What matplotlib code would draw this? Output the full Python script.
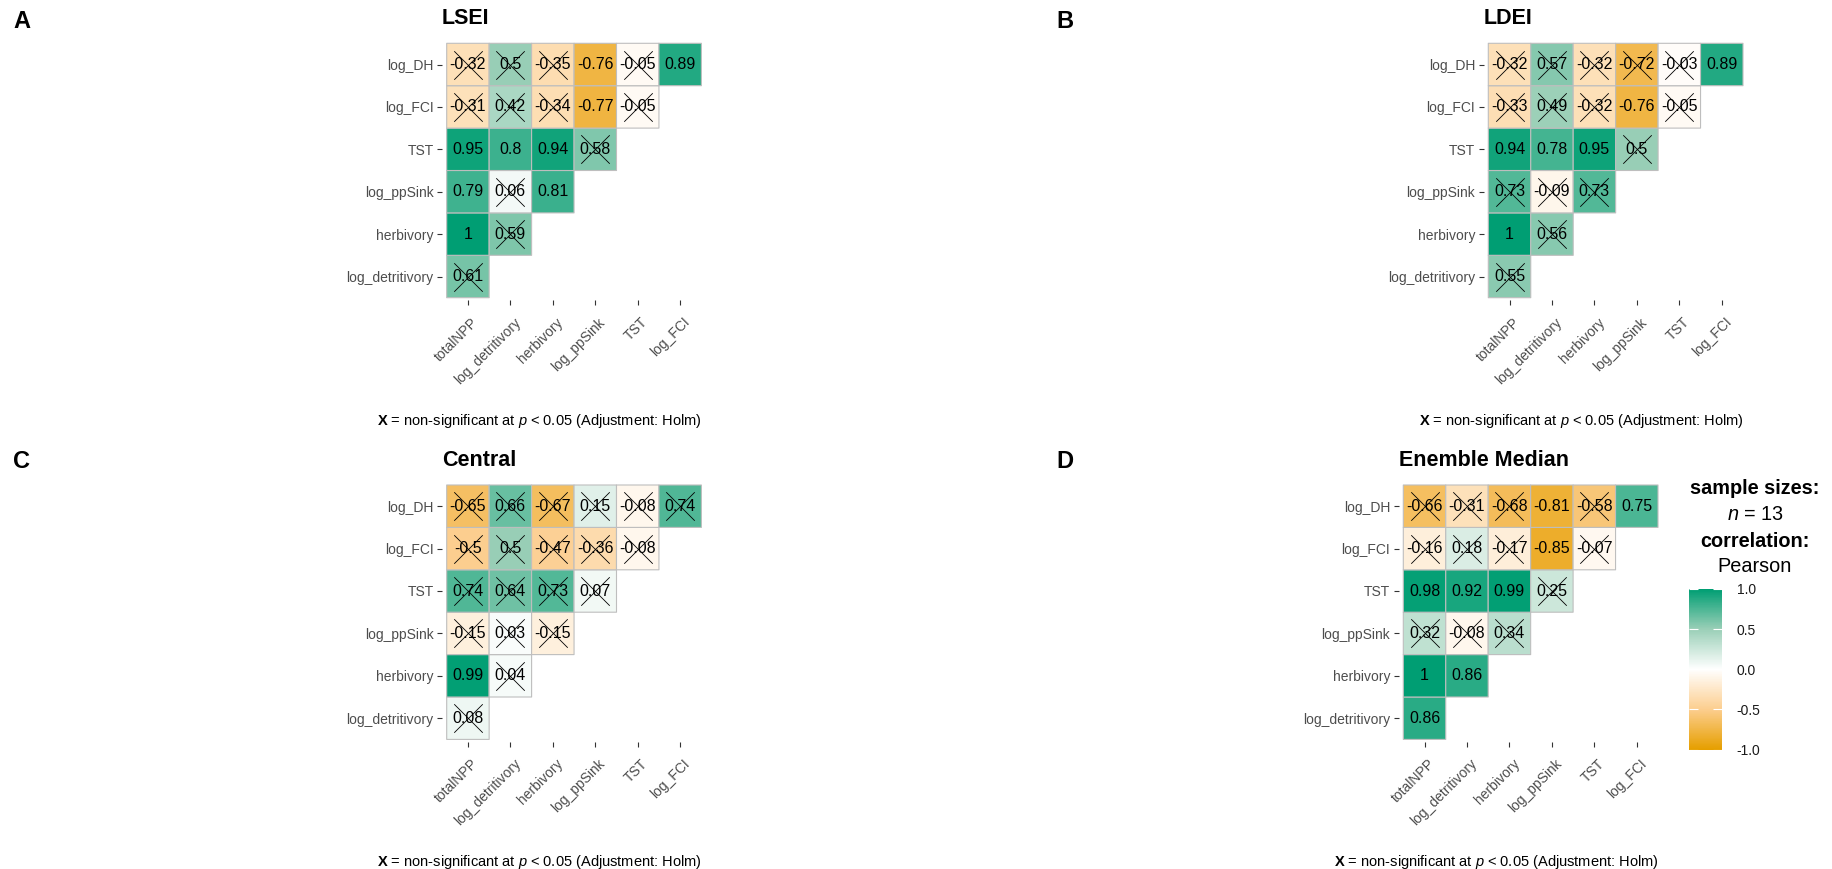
import matplotlib
matplotlib.use("Agg")
import matplotlib.pyplot as plt
import numpy as np
from matplotlib.colors import LinearSegmentedColormap, Normalize
from matplotlib.cm import ScalarMappable
from matplotlib.transforms import ScaledTranslation

plt.rcParams['font.family'] = ['Liberation Sans', 'DejaVu Sans']
plt.rcParams['mathtext.fontset'] = 'custom'
plt.rcParams['mathtext.rm'] = 'Liberation Sans'
plt.rcParams['mathtext.it'] = 'Liberation Sans:italic'
plt.rcParams['mathtext.bf'] = 'Liberation Sans:bold'

rows = ["log_DH", "log_FCI", "TST", "log_ppSink", "herbivory", "log_detritivory"]
cols = ["totalNPP", "log_detritivory", "herbivory", "log_ppSink", "TST", "log_FCI"]

# lower triangle, one list per row (top to bottom); ns = 1 means crossed out
lsei_r = [[-0.32, 0.5, -0.35, -0.76, -0.05, 0.89],
          [-0.31, 0.42, -0.34, -0.77, -0.05],
          [0.95, 0.8, 0.94, 0.58],
          [0.79, 0.06, 0.81],
          [1, 0.59],
          [0.61]]
lsei_ns = [[1, 1, 1, 0, 1, 0], [1, 1, 1, 0, 1], [0, 0, 0, 1], [0, 1, 0], [0, 1], [1]]

ldei_r = [[-0.32, 0.57, -0.32, -0.72, -0.03, 0.89],
          [-0.33, 0.49, -0.32, -0.76, -0.05],
          [0.94, 0.78, 0.95, 0.5],
          [0.73, -0.09, 0.73],
          [1, 0.56],
          [0.55]]
ldei_ns = [[1, 1, 1, 1, 1, 0], [1, 1, 1, 0, 1], [0, 0, 0, 1], [1, 1, 1], [0, 1], [1]]

central_r = [[-0.65, 0.66, -0.67, 0.15, -0.08, 0.74],
             [-0.5, 0.5, -0.47, -0.36, -0.08],
             [0.74, 0.64, 0.73, 0.07],
             [-0.15, 0.03, -0.15],
             [0.99, 0.04],
             [0.08]]
central_ns = [[1, 1, 1, 1, 1, 1], [1, 1, 1, 1, 1], [1, 1, 1, 1], [1, 1, 1], [0, 1], [1]]

median_r = [[-0.66, -0.31, -0.68, -0.81, -0.58, 0.75],
            [-0.16, 0.18, -0.17, -0.85, -0.07],
            [0.98, 0.92, 0.99, 0.25],
            [0.32, -0.08, 0.34],
            [1, 0.86],
            [0.86]]
median_ns = [[1, 1, 1, 0, 1, 0], [1, 1, 1, 0, 1], [0, 0, 0, 1], [1, 1, 1], [0, 0], [0]]

W, H = 1832, 869
CW, CH = 42.45, 42.4      # cell size in pixels
PX, PY = 0.11, 0.065      # panel padding around the tiles, in cells

cmap = LinearSegmentedColormap.from_list(
    "corr", ["#E69F00", "#FCCE8F", "#FFFFFF", "#9ACFB7", "#009E73"])
norm = Normalize(-1, 1)

fig = plt.figure(figsize=(W / 100, H / 100), dpi=100)
fig.patch.set_facecolor("white")


def px_axes(x0, y0, x1, y1):
    return fig.add_axes([x0 / W, 1 - y1 / H, (x1 - x0) / W, (y1 - y0) / H])


def panel(letter, title, r, ns, tx, ty, lx, ly):
    n = len(rows)
    left = tx - PX * CW
    right = tx + (n + PX) * CW
    top = ty - PY * CH
    bottom = ty + (n + PY) * CH
    ax = px_axes(left, top, right, bottom)

    grid = np.full((n, n), np.nan)
    for i, vals in enumerate(r):
        for j, v in enumerate(vals):
            grid[n - 1 - i, j] = v
    data = np.ma.masked_invalid(grid)
    edges = np.arange(n + 1) - 0.5
    ax.pcolor(edges, edges, data, cmap=cmap, norm=norm,
              edgecolors="#BEBEBE", linewidth=0.8)

    xs, ys = [], []
    for i, vals in enumerate(r):
        for j, v in enumerate(vals):
            ax.text(j, n - 1 - i, f"{v:g}", ha="center", va="center",
                    fontsize=11.5, color="black")
            if ns[i][j]:
                xs.append(j)
                ys.append(n - 1 - i)
    ax.scatter(xs, ys, marker="x", s=20.5 ** 2, c="black", linewidths=0.6, zorder=3)

    ax.set_xlim(-0.5 - PX, n - 0.5 + PX)
    ax.set_ylim(-0.5 - PY, n - 0.5 + PY)
    for s in ax.spines.values():
        s.set_visible(False)
    ax.set_xticks(range(n))
    ax.set_xticklabels(cols)
    ax.set_yticks(range(n))
    ax.set_yticklabels(rows[::-1])
    ax.tick_params(length=3.5, width=0.8, color="#333333", labelcolor="#4D4D4D",
                   labelsize=10, pad=2.5)
    ax.tick_params(axis="x", pad=7)
    shift = ScaledTranslation(3 / 100, 0, fig.dpi_scale_trans)
    for lbl in ax.get_xticklabels():
        lbl.set_rotation(45)
        lbl.set_ha("right")
        lbl.set_va("top")
        lbl.set_rotation_mode("anchor")
        lbl.set_transform(lbl.get_transform() + shift)

    fig.text(left / W, 1 - (ty - 25) / H, title, fontsize=15.5, fontweight="bold",
             ha="left", va="center")
    fig.text((left - 65) / W, 1 - (ty + n * CH + 123) / H,
             r"$\mathbf{X}$ = non-significant at $p$ < 0.05 (Adjustment: Holm)",
             fontsize=10.5, ha="left", va="center")
    fig.text(lx / W, 1 - ly / H, letter, fontsize=17, fontweight="bold",
             ha="left", va="center")
    return ax


panel("A", "LSEI", lsei_r, lsei_ns, 446.7, 43.3, 13, 21)
panel("B", "LDEI", ldei_r, ldei_ns, 1488.3, 43.3, 1056, 21)
panel("C", "Central", central_r, central_ns, 446.7, 485, 13, 462)
panel("D", "Enemble Median", median_r, median_ns, 1403.3, 485, 1056, 462)

# legend for the last panel
lx = 1755
fig.text(lx / W, 1 - 488 / H, "sample sizes:", fontsize=14.3, fontweight="bold",
         ha="center", va="center")
fig.text(lx / W, 1 - 515 / H, r"$\mathit{n}$ = 13", fontsize=14.3,
         ha="center", va="center")
fig.text(lx / W, 1 - 541.7 / H, "correlation:", fontsize=14.3, fontweight="bold",
         ha="center", va="center")
fig.text(lx / W, 1 - 566.7 / H, "Pearson", fontsize=14.3,
         ha="center", va="center")

cax = px_axes(1689.3, 589, 1721.7, 749.5)
cb = fig.colorbar(ScalarMappable(norm=norm, cmap=cmap), cax=cax)
cb.outline.set_visible(False)
cb.set_ticks([-1, -0.5, 0, 0.5, 1])
cb.set_ticklabels(["-1.0", "-0.5", "0.0", "0.5", "1.0"])
cax.tick_params(axis="y", direction="in", length=6.5, width=0.8, color="white",
                left=True, right=True, labelcolor="#1A1A1A", labelsize=10, pad=10.8)

fig.savefig("out.png", dpi=100, facecolor="white")
